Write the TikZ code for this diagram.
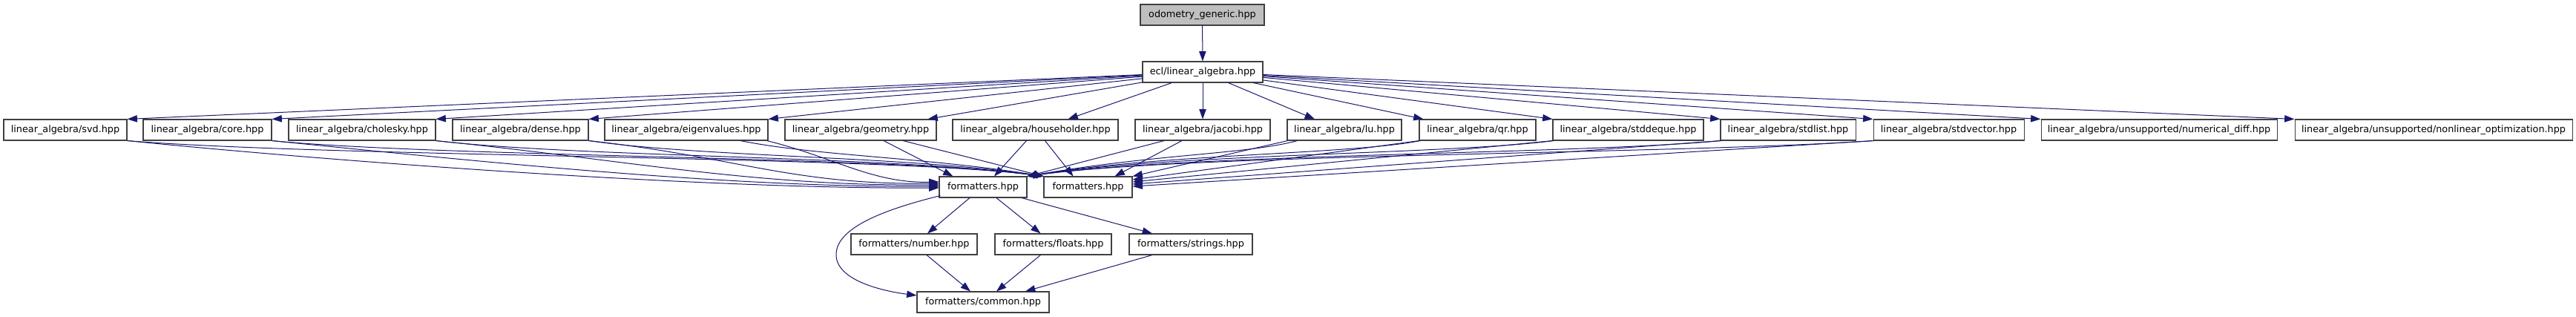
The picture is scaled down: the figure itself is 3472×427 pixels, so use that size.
\documentclass[tikz,border=0pt]{standalone}
\usepackage{fontspec}
\setmainfont{DejaVu Sans}
\usetikzlibrary{arrows.meta,calc}
\definecolor{edgeblue}{HTML}{191970}
\definecolor{boxline}{HTML}{404040}
\definecolor{rootfill}{HTML}{BFBFBF}
\begin{document}
\begin{tikzpicture}[x=0.75pt,y=-0.75pt,
  file/.style={draw=boxline, line width=0.8pt, fill=white, inner sep=0pt,
    minimum height=21pt, font=\fontsize{9.6}{11}\selectfont},
  rootfile/.style={file, fill=rootfill},
  dep/.style={draw=edgeblue, line width=0.75pt, -{Triangle[length=10pt,width=7pt]}}]
\useasboundingbox (0,0) rectangle (3472,427);
% level 0,1
\node[rootfile, minimum width=125.25pt] (odo) at (1620.5,20) {odometry\_generic.hpp};
\node[file, minimum width=121.5pt] (ecl) at (1621,97) {ecl/linear\_algebra.hpp};
% level 2
\node[file, minimum width=124.5pt]  (svd) at (88,175) {linear\_algebra/svd.hpp};
\node[file, minimum width=129.75pt] (core) at (279.5,175) {linear\_algebra/core.hpp};
\node[file, minimum width=148.5pt]  (chol) at (488,175) {linear\_algebra/cholesky.hpp};
\node[file, minimum width=137.25pt] (dense) at (701.5,175) {linear\_algebra/dense.hpp};
\node[file, minimum width=165pt]    (eigen) at (925,175) {linear\_algebra/eigenvalues.hpp};
\node[file, minimum width=153pt]    (geom) at (1160,175) {linear\_algebra/geometry.hpp};
\node[file, minimum width=167.25pt] (house) at (1395.5,175) {linear\_algebra/householder.hpp};
\node[file, minimum width=136.5pt]  (jacobi) at (1621,175) {linear\_algebra/jacobi.hpp};
\node[file, minimum width=115.5pt]  (lu) at (1812,175) {linear\_algebra/lu.hpp};
\node[file, minimum width=117.75pt] (qr) at (1991.5,175) {linear\_algebra/qr.hpp};
\node[file, minimum width=152.25pt] (deque) at (2194.5,175) {linear\_algebra/stddeque.hpp};
\node[file, minimum width=136.5pt]  (list) at (2410,175) {linear\_algebra/stdlist.hpp};
\node[file, minimum width=152.25pt] (vector) at (2626.5,175) {linear\_algebra/stdvector.hpp};
\node[file, minimum width=238.5pt]  (numdiff) at (2910,175) {linear\_algebra/unsupported/numerical\_diff.hpp};
\node[file, minimum width=280.5pt]  (nonlin) at (3280,175) {linear\_algebra/unsupported/nonlinear\_optimization.hpp};
% level 3
\node[file, minimum width=88.5pt]  (fa) at (1325,252) {formatters.hpp};
\node[file, minimum width=89.25pt] (fb) at (1466.5,252) {formatters.hpp};
% level 4
\node[file, minimum width=127.5pt]  (num) at (1232,329) {formatters/number.hpp};
\node[file, minimum width=117.75pt] (flo) at (1419.5,329) {formatters/floats.hpp};
\node[file, minimum width=124.5pt]  (str) at (1605,329) {formatters/strings.hpp};
% level 5
\node[file, minimum width=133.5pt]  (com) at (1325,407) {formatters/common.hpp};

% root -> ecl
\draw[dep] (odo) -- (ecl);
% ecl -> level 2
\draw[dep] (ecl) -- (svd.north east);
\draw[dep] (ecl) -- (core.north east);
\draw[dep] (ecl) -- (chol.north east);
\draw[dep] (ecl) -- (dense.north east);
\draw[dep] (ecl) -- (eigen.north east);
\draw[dep] (ecl) -- ($(geom.north east)+(-12,0)$);
\draw[dep] (ecl) -- ($(house.north)+(44,0)$);
\draw[dep] (ecl) -- (jacobi);
\draw[dep] (ecl) -- ($(lu.north)+(-40,0)$);
\draw[dep] (ecl) -- ($(qr.north west)+(6,0)$);
\draw[dep] (ecl) -- (deque.north west);
\draw[dep] (ecl) -- (list.north west);
\draw[dep] (ecl) -- (vector.north west);
\draw[dep] (ecl) -- (numdiff.north west);
\draw[dep] (ecl) -- (nonlin.north west);

% left group -> first formatters (west side)
\draw[dep] (svd.south east) .. controls +(300,30) and +(-300,2) .. ($(fa.west)+(0,1)$);
\draw[dep] (core.south east) .. controls +(280,28) and +(-280,2) .. ($(fa.west)+(0,-1)$);
\draw[dep] (chol.south east) .. controls +(250,25) and +(-250,2) .. ($(fa.west)+(0,-3)$);
\draw[dep] (dense.south east) .. controls +(200,22) and +(-200,2) .. ($(fa.west)+(0,-5)$);
\draw[dep] ($(eigen.south east)+(-2,0)$) .. controls +(90,22) and +(-90,2) .. ($(fa.west)+(0,-7)$);
% left group -> second formatters (bundle)
\draw[dep] (svd.south east) .. controls (450,212) and (1200,210) .. (fb.north west);
\draw[dep] (core.south east) .. controls (600,212) and (1200,210) .. (fb.north west);
\draw[dep] (chol.south east) .. controls (780,212) and (1200,210) .. (fb.north west);
\draw[dep] (dense.south east) .. controls (950,212) and (1220,210) .. (fb.north west);
\draw[dep] ($(eigen.south)+(73,0)$) .. controls (1100,210) and (1250,212) .. (fb.north west);
% middle group
\draw[dep] ($(geom.south)+(31,0)$) -- ($(fa.north west)+(19,0)$);
\draw[dep] ($(geom.south)+(57,0)$) -- (fb.north west);
\draw[dep] ($(house.south)+(-12,0)$) -- ($(fa.north)+(15,0)$);
\draw[dep] ($(house.south)+(13,0)$) -- ($(fb.north)+(-20,0)$);
\draw[dep] ($(jacobi.south)+(-52,0)$) -- (fa.north east);
\draw[dep] ($(jacobi.south)+(-28,0)$) -- ($(fb.north)+(36,0)$);
% right group -> second formatters
\draw[dep] ($(lu.south west)+(1,0)$) -- (fb.north east);
\draw[dep] (qr.south west) -- ($(fb.east)+(0,-10)$);
\draw[dep] (deque.south west) -- ($(fb.east)+(0,-7)$);
\draw[dep] (list.south west) -- ($(fb.east)+(0,-4)$);
\draw[dep] (vector.south west) -- ($(fb.east)+(0,-1)$);
% right group -> first formatters (bundle)
\draw[dep] ($(lu.south west)+(14,0)$) .. controls (1680,208) and (1560,207) .. (fa.north east);
\draw[dep] ($(qr.south west)+(2,0)$) .. controls (1820,208) and (1570,207) .. (fa.north east);
\draw[dep] ($(deque.south west)+(2,0)$) .. controls (1950,208) and (1580,207) .. (fa.north east);
\draw[dep] ($(list.south west)+(2,0)$) .. controls (2120,208) and (1600,207) .. (fa.north east);
\draw[dep] ($(vector.south west)+(2,0)$) .. controls (2250,208) and (1600,207) .. (fa.north east);

% formatters -> sub headers
\draw[dep] ($(fa.south)+(-18,0)$) -- ($(num.north)+(18,0)$);
\draw[dep] ($(fa.south)+(18,0)$) -- ($(flo.north)+(-17,0)$);
\draw[dep] ($(fa.south)+(52,0)$) -- ($(str.north)+(-52,0)$);
\draw[dep] ($(num.south)+(17,0)$) -- ($(com.north)+(-17,0)$);
\draw[dep] ($(flo.south)+(-17,0)$) -- ($(com.north)+(18,0)$);
\draw[dep] ($(str.south)+(-52,0)$) -- ($(com.north)+(57,0)$);
\draw[dep] ($(fa.south west)+(2,-3)$) .. controls (1180,285) and (1127,310) .. (1127,343)
  .. controls (1127,378) and (1190,392) .. ($(com.west)+(0,-9)$);
\end{tikzpicture}
\end{document}
